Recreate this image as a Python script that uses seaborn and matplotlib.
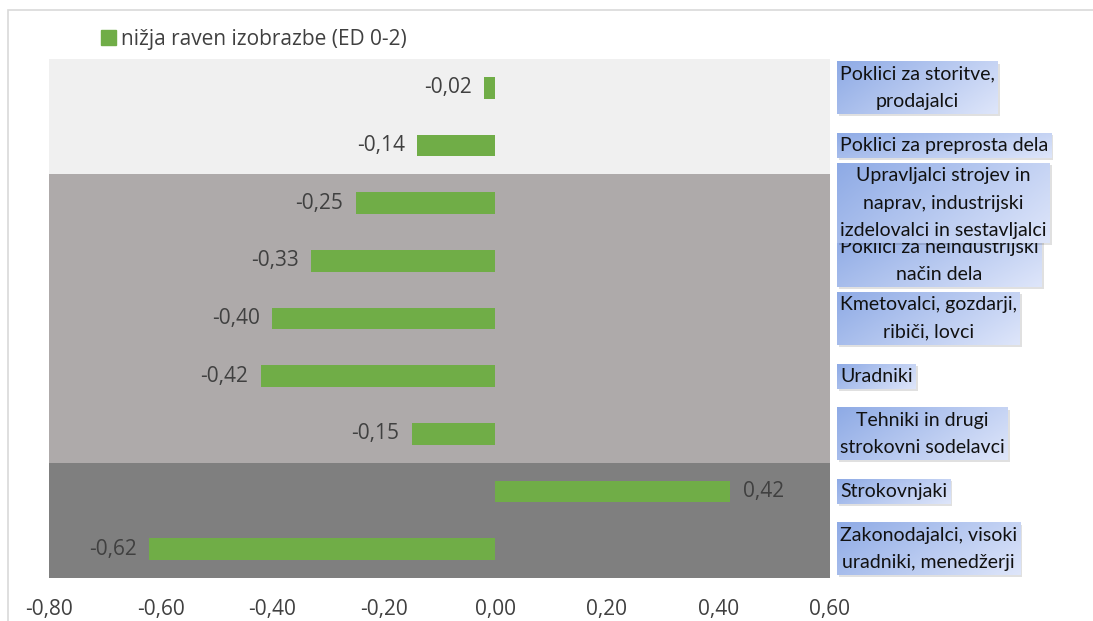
import numpy as np
import pandas as pd
import matplotlib
matplotlib.use("Agg")
import matplotlib.pyplot as plt
import seaborn as sns
from matplotlib.patches import Patch, Rectangle

# ---- data ----
categories = [
    "Poklici za storitve,\nprodajalci",
    "Poklici za preprosta dela",
    "Upravljalci strojev in\nnaprav, industrijski\nizdelovalci in sestavljalci",
    "Poklici za neindustrijski\nnačin dela",
    "Kmetovalci, gozdarji,\nribiči, lovci",
    "Uradniki",
    "Tehniki in drugi\nstrokovni sodelavci",
    "Strokovnjaki",
    "Zakonodajalci, visoki\nuradniki, menedžerji",
]
values = [-0.02, -0.14, -0.25, -0.33, -0.40, -0.42, -0.15, 0.42, -0.62]
series_name = "nižja raven izobrazbe (ED 0-2)"
band_sizes = [2, 5, 2]
band_colors = ["#f0f0f0", "#aeaaaa", "#7f7f7f"]
x_ticks = [-0.8, -0.6, -0.4, -0.2, 0.0, 0.2, 0.4, 0.6]

GREEN = "#70ad47"
TXT = "#404040"
FS = 15

sns.set_theme(style="white")
plt.rcParams["font.family"] = ["Open Sans", "DejaVu Sans"]

W, H = 1093, 621
fig = plt.figure(figsize=(W / 100, H / 100), dpi=100)
ax = fig.add_axes([49 / W, 1 - 578 / H, (830 - 49) / W, (578 - 59) / H])

df = pd.DataFrame({"cat": categories, "val": values})
sns.barplot(data=df, x="val", y="cat", orient="h", color=GREEN, width=0.38,
            saturation=1, ax=ax, order=categories, zorder=3, linewidth=0,
            edgecolor="none")

# background bands
start = -0.5
for n, c in zip(band_sizes, band_colors):
    ax.axhspan(start, start + n, color=c, zorder=0, lw=0)
    start += n
ax.set_ylim(len(categories) - 0.5, -0.5)
ax.set_xlim(x_ticks[0], x_ticks[-1])
ax.set_xticks(x_ticks)
ax.set_xticklabels([f"{t:.2f}".replace(".", ",") for t in x_ticks],
                   fontsize=FS, color=TXT)
ax.tick_params(axis="x", length=0, pad=15)
ax.set_yticks(range(len(categories)))
ax.set_yticklabels([])
ax.tick_params(axis="y", length=0)
ax.set_xlabel("")
ax.set_ylabel("")
for s in ax.spines.values():
    s.set_visible(False)
ax.set_facecolor("none")

# value labels
for i, v in enumerate(values):
    lab = f"{v:.2f}".replace(".", ",")
    if v < 0:
        ax.annotate(lab, (v, i), xytext=(-9, 0), textcoords="offset points",
                    ha="right", va="center", fontsize=FS, color=TXT)
    else:
        ax.annotate(lab, (v, i), xytext=(10, 0), textcoords="offset points",
                    ha="left", va="center", fontsize=FS, color=TXT)

# legend
ax.legend(handles=[Patch(color=GREEN, label=series_name)], loc="center left",
          bbox_to_anchor=(101 / W, 1 - 39 / H), bbox_transform=fig.transFigure,
          frameon=False, fontsize=FS, handlelength=0.7, handleheight=0.7,
          handletextpad=0.25, borderpad=0, borderaxespad=0, labelcolor=TXT)

# outer chart border
fig.patches.append(Rectangle((8 / W, -0.1), 1.2, 1 - 10 / H + 0.1,
                             transform=fig.transFigure, fill=False,
                             ec="#d9d9d9", lw=1.2))

# overlay for category label boxes (pixel coords, y down)
ov = fig.add_axes([0, 0, 1, 1])
ov.set_xlim(0, W)
ov.set_ylim(H, 0)
ov.axis("off")
ov.set_zorder(5)

fig.canvas.draw()
renderer = fig.canvas.get_renderer()

c0 = np.array([0.56, 0.67, 0.90])
c1 = np.array([0.87, 0.90, 0.98])
gy, gx = np.mgrid[0:1:20j, 0:1:60j]
t = np.clip(0.7 * gx + 0.3 * gy, 0, 1)[..., None]
grad = c0 * (1 - t) + c1 * t

box_left = 837
padx, pady = 3, 4
n = len(categories)
for k, i in enumerate(reversed(range(n))):
    cat = categories[i]
    yc_disp = ax.transData.transform((0, i))[1]
    yc = H - yc_disp
    txt = ov.text(0, yc, cat, ha="center", va="center", fontsize=14,
                  family=["Lato", "DejaVu Sans"], color="#111111",
                  linespacing=1.75, multialignment="center", zorder=10 + 2 * k + 1)
    bb = txt.get_window_extent(renderer)
    w = bb.width + 2 * padx
    h = bb.height + 2 * pady
    txt.set_x(box_left + w / 2)
    x0, x1 = box_left, box_left + w
    y0, y1 = yc - h / 2, yc + h / 2
    ov.add_patch(Rectangle((x0 + 2, y0 + 2), w, h, color="#000000", alpha=0.12,
                           lw=0, zorder=10 + 2 * k))
    ov.imshow(grad, extent=(x0, x1, y1, y0), aspect="auto",
              interpolation="bilinear", zorder=10 + 2 * k + 0.5)

ov.set_xlim(0, W)
ov.set_ylim(H, 0)

fig.savefig("out.png", dpi=100)
